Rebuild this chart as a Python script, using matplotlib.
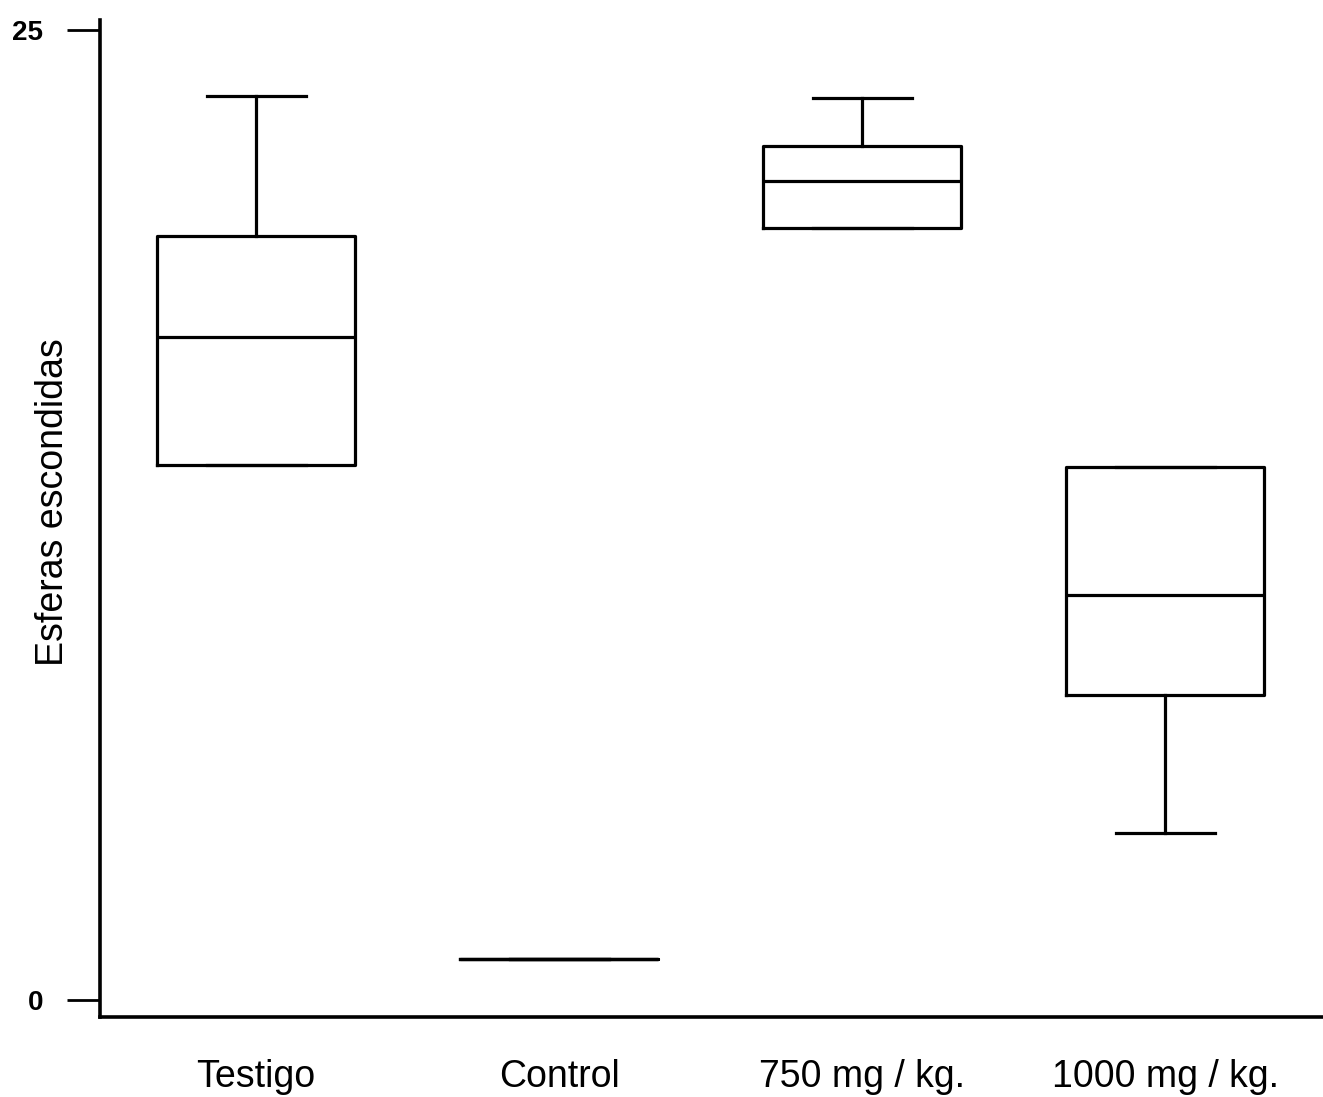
import matplotlib
matplotlib.use("Agg")
import matplotlib.pyplot as plt

plt.rcParams['font.family'] = ['Liberation Sans', 'DejaVu Sans']

categories = ["Testigo", "Control", "750 mg / kg.", "1000 mg / kg."]
whisker_low = [13.8, 1.05, 19.9, 4.3]
q1 = [13.8, 1.05, 19.9, 7.85]
median = [17.1, 1.05, 21.1, 10.45]
q3 = [19.7, 1.05, 22.0, 13.75]
whisker_high = [23.3, 1.05, 23.25, 13.75]
yticks = [0, 25]

stats = []
for i, name in enumerate(categories):
    stats.append(dict(label=name, whislo=whisker_low[i], q1=q1[i], med=median[i],
                      q3=q3[i], whishi=whisker_high[i], fliers=[]))

fig = plt.figure(figsize=(13.23, 10.97), dpi=100)
W, H = 1323, 1097
ax = fig.add_axes([100 / W, (H - 1017) / H, (W - 100) / W, (1017 - 20) / H])

lw = 2.3
ax.bxp(stats, positions=[1, 2, 3, 4], widths=0.653, showfliers=False,
       boxprops=dict(color='black', linewidth=lw),
       medianprops=dict(color='black', linewidth=lw),
       whiskerprops=dict(color='black', linewidth=lw),
       capprops=dict(color='black', linewidth=lw),
       manage_ticks=False)

ax.set_xlim(0.485, 4.521)
ax.set_ylim(-0.44, 25.26)
ax.set_xticks([1, 2, 3, 4])
ax.set_xticklabels(categories, fontsize=27)
ax.tick_params(axis='x', length=0, pad=30)
ax.set_yticks(yticks)
ax.set_yticklabels([str(t) for t in yticks], fontsize=20, fontweight='bold')
ax.tick_params(axis='y', length=24, width=2, pad=17)

for s in ['top', 'right']:
    ax.spines[s].set_visible(False)
for s in ['left', 'bottom']:
    ax.spines[s].set_linewidth(2.6)

ax.set_ylabel("Esferas escondidas", fontsize=27)
ax.yaxis.set_label_coords(-0.024, 0.5165)

fig.savefig("out.png", dpi=100, facecolor='white')
